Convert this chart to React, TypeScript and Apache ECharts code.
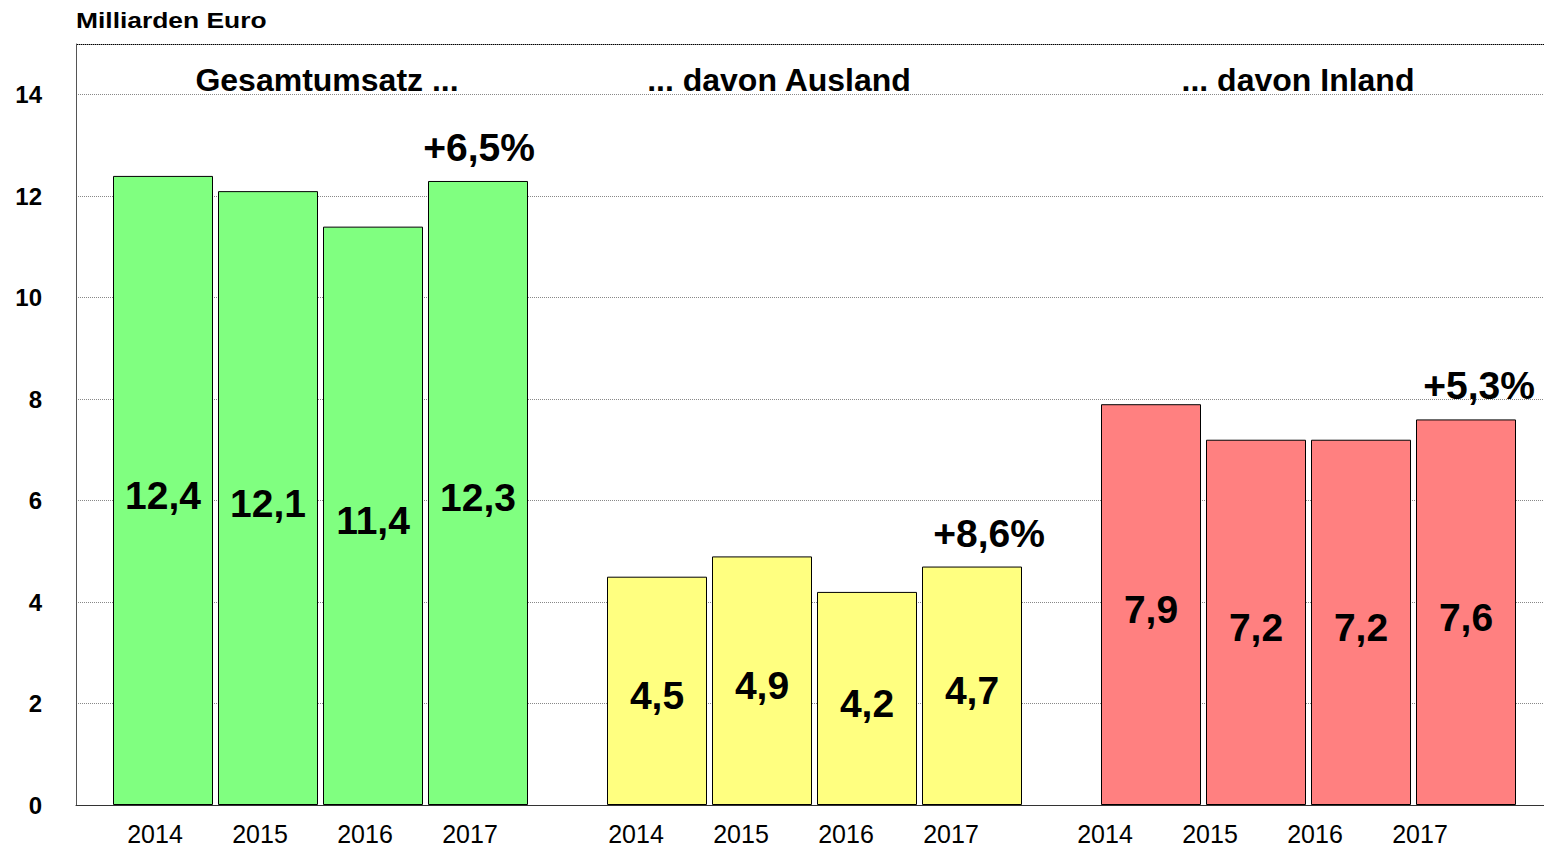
import React, { useEffect, useRef } from "react";
import * as echarts from "echarts";

const years = ["2014", "2015", "2016", "2017"];
const gesamt = [12.4, 12.1, 11.4, 12.3];
const ausland = [4.5, 4.9, 4.2, 4.7];
const inland = [7.9, 7.2, 7.2, 7.6];
const growth = ["+6,5%", "+8,6%", "+5,3%"];
const groupTitles = ["Gesamtumsatz ...", "... davon Ausland", "... davon Inland"];
const groupColors = ["#80FF80", "#FFFF80", "#FF8080"];
const yTicks = [0, 2, 4, 6, 8, 10, 12, 14];

const FONT = "'Liberation Sans', Arial, sans-serif";

export default function App() {
  const ref = useRef<HTMLDivElement>(null);
  useEffect(() => {
    if (!ref.current) return;
    const chart = echarts.init(ref.current, null, { renderer: "svg" });
    const groups = [gesamt, ausland, inland];
    const subLefts = [110.5, 604.5, 1098.5];
    const labelShift = [8, 21, 46];
    const growthShift = [1, 17, 13];
    const titleX = [327, 779, 1298];
    const fmt = (v: number) => v.toFixed(1).replace(".", ",");
    const plotTop = 44;
    const plotBottom = 41;

    const grids: any[] = [
      { left: 76, top: plotTop, right: 0, bottom: plotBottom, show: false },
    ];
    const xAxes: any[] = [
      {
        gridIndex: 0,
        type: "category",
        data: [],
        axisLine: { show: true, lineStyle: { color: "#333", width: 1 } },
        axisTick: { show: false },
        axisLabel: { show: false },
      },
    ];
    const yAxes: any[] = [
      {
        gridIndex: 0,
        type: "value",
        min: 0,
        max: 15,
        interval: 2,
        axisLine: { show: true, lineStyle: { color: "#555" } },
        axisTick: { show: false },
        axisLabel: {
          margin: 34,
          fontFamily: FONT,
          fontSize: 24,
          fontWeight: "bold",
          color: "#000",
          formatter: (v: number) => (yTicks.includes(v) ? String(v) : ""),
        },
        splitLine: { show: true, lineStyle: { color: "#888", type: [1, 1], width: 1 } },
      },
    ];
    const series: any[] = [];
    groups.forEach((vals, gi) => {
      const idx = gi + 1;
      grids.push({ left: subLefts[gi], width: 420, top: plotTop, bottom: plotBottom });
      xAxes.push({
        gridIndex: idx,
        type: "category",
        data: years,
        axisLine: { show: false },
        axisTick: { show: false },
        axisLabel: {
          margin: 16,
          fontFamily: FONT,
          fontSize: 25,
          color: "#000",
          padding: [0, labelShift[gi] * 2, 0, 0],
        },
      });
      yAxes.push({
        gridIndex: idx,
        type: "value",
        min: 0,
        max: 15,
        show: false,
        splitLine: { show: false },
      });
      series.push({
        type: "bar",
        xAxisIndex: idx,
        yAxisIndex: idx,
        data: vals,
        barWidth: 100,
        itemStyle: { color: groupColors[gi], borderColor: "#000", borderWidth: 1 },
        label: {
          show: true,
          position: "inside",
          offset: [0, 5],
          fontFamily: FONT,
          fontSize: 39,
          fontWeight: "bold",
          color: "#000",
          formatter: (p: any) => fmt(p.value),
        },
      });
      series.push({
        type: "bar",
        xAxisIndex: idx,
        yAxisIndex: idx,
        data: vals.map((v, i) => ({
          value: v,
          label: { show: i === vals.length - 1 },
        })),
        barWidth: 100,
        barGap: "-100%",
        silent: true,
        itemStyle: { color: "transparent" },
        label: {
          show: false,
          position: "top",
          distance: 14,
          offset: [growthShift[gi], 0],
          fontFamily: FONT,
          fontSize: 39,
          fontWeight: "bold",
          color: "#000",
          formatter: () => growth[gi],
        },
      });
    });

    const graphics: any[] = [
      {
        type: "text",
        x: 76,
        y: 20,
        scaleX: 1.2,
        style: {
          text: "Milliarden Euro",
          font: `bold 22px ${FONT}`,
          fill: "#000",
          textVerticalAlign: "middle",
        },
      },
      {
        type: "line",
        shape: { x1: 76, y1: 44.5, x2: 1544, y2: 44.5 },
        style: { stroke: "#000", lineWidth: 1 },
      },
    ];
    groupTitles.forEach((t, i) => {
      graphics.push({
        type: "text",
        x: titleX[i],
        y: 80,
        style: {
          text: t,
          font: `bold 32px ${FONT}`,
          fill: "#000",
          textAlign: "center",
          textVerticalAlign: "middle",
        },
      });
    });

    chart.setOption({
      animation: false,
      backgroundColor: "#fff",
      grid: grids,
      xAxis: xAxes,
      yAxis: yAxes,
      series,
      graphic: graphics,
    });
    return () => chart.dispose();
  }, []);
  return (
    <div
      ref={ref}
      style={{ position: "fixed", left: 0, top: 0, width: 1544, height: 846 }}
    />
  );
}
